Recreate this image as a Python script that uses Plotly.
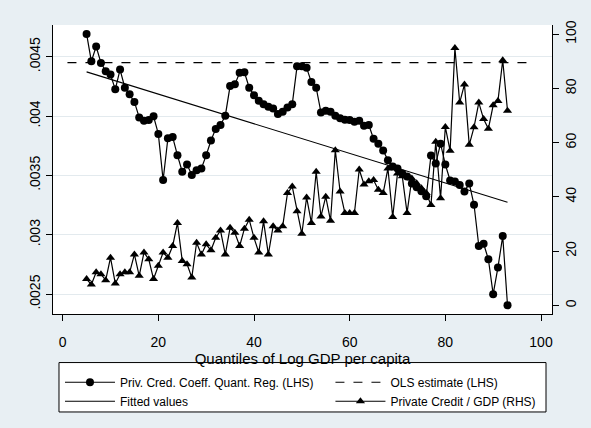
import numpy as np
import plotly.graph_objects as go

# Quantiles of log GDP per capita at which the regression was estimated
quantiles = list(range(5, 94))

# Private credit coefficient from the quantile regressions (left axis)
coef_quantreg = [
    .004692, .004461, .004586, .004448, .004378, .004350, .004225, .004392, .004239, .004183,
    .004119, .003989, .003961, .003967, .003998, .003850, .003461, .003814, .003823, .003669,
    .003531, .003592, .003503, .003544, .003558, .003669, .003794, .003892, .003925, .004003,
    .004253, .004267, .004364, .004369, .004239, .004175, .004128, .004100, .004078, .004064,
    .004017, .004036, .004073, .004100, .004419, .004419, .004406, .004286, .004239, .004031,
    .004044, .004036, .004003, .003981, .003969, .003967, .003953, .003961, .003919, .003925,
    .003808, .003767, .003711, .003628, .003575, .003558, .003517, .003492, .003433, .003400,
    .003367, .003325, .003667, .003600, .003767, .003592, .003458, .003448, .003419, .003364,
    .003433, .003253, .002906, .002925, .002794, .002500, .002725, .002989, .002406,
]

# Private credit / GDP at each quantile (right axis)
private_credit_gdp = [
    9.7, 7.7, 12.2, 11.5, 9.3, 17.6, 8.1, 11.5, 12.2, 12.2,
    18.8, 10.9, 19.5, 17.0, 9.7, 14.6, 19.5, 17.6, 21.9, 30.4,
    16.4, 15.2, 10.3, 23.1, 18.8, 22.5, 20.3, 24.9, 27.6, 18.8,
    28.6, 26.8, 21.9, 28.3, 31.6, 24.9, 19.5, 31.0, 18.8, 29.2,
    27.6, 29.2, 41.4, 43.8, 34.7, 26.4, 39.8, 30.4, 49.3, 32.8,
    40.1, 31.2, 57.2, 42.0, 34.1, 34.1, 34.1, 50.1, 44.6, 45.8,
    46.2, 42.6, 41.4, 50.5, 32.6, 48.6, 47.6, 34.1, 46.8, 45.0,
    43.2, 41.4, 37.0, 60.3, 39.5, 65.8, 57.0, 94.9, 74.8, 81.5,
    59.2, 65.7, 74.8, 68.7, 65.1, 73.8, 75.4, 90.4, 71.8,
]

# OLS estimate of the same coefficient and the quantile span it is drawn over
ols_estimate = 0.00445
ols_span = [1, 97]

left_ticks = [0.0025, 0.003, 0.0035, 0.004, 0.0045]
left_tick_text = [".0025", ".003", ".0035", ".004", ".0045"]
right_ticks = [0, 20, 40, 60, 80, 100]
x_ticks = [0, 20, 40, 60, 80, 100]

# Linear fit of the quantile coefficients on the quantile
slope, intercept = np.polyfit(quantiles, coef_quantreg, 1)
fitted = [intercept + slope * q for q in quantiles]

FONT = "Liberation Sans, Arial, sans-serif"
BG = "#e8eff3"

fig = go.Figure()

fig.add_trace(go.Scatter(
    x=quantiles, y=coef_quantreg, mode="lines+markers",
    name="Priv. Cred. Coeff. Quant. Reg. (LHS)",
    line=dict(color="black", width=1.2),
    marker=dict(symbol="circle", size=8, color="black"),
    legend="legend",
))
fig.add_trace(go.Scatter(
    x=quantiles, y=fitted, mode="lines", name="Fitted values",
    line=dict(color="black", width=1.1),
    legend="legend",
))
fig.add_trace(go.Scatter(
    x=ols_span, y=[ols_estimate, ols_estimate], mode="lines",
    name="OLS estimate (LHS)",
    line=dict(color="black", width=1.2, dash="dash"),
    legend="legend2",
))
fig.add_trace(go.Scatter(
    x=quantiles, y=private_credit_gdp, mode="lines+markers", yaxis="y2",
    name="Private Credit / GDP (RHS)",
    line=dict(color="black", width=1.2),
    marker=dict(symbol="triangle-up", size=8, color="black"),
    legend="legend2",
))

# Frame around the two legend columns
fig.add_shape(type="rect", xref="paper", yref="paper",
              x0=0.012, x1=0.988, y0=-0.339, y1=-0.168,
              line=dict(color="black", width=1), fillcolor="white", layer="below")

legend_common = dict(
    orientation="v", yanchor="top", xanchor="left",
    bgcolor="rgba(0,0,0,0)", borderwidth=0, itemwidth=50,
    font=dict(family=FONT, size=12, color="black"), tracegroupgap=0,
)

fig.update_layout(
    width=591, height=428,
    margin=dict(l=53, r=37, t=25, b=111, pad=0),
    paper_bgcolor=BG, plot_bgcolor="white",
    font=dict(family=FONT, size=14, color="black"),
    showlegend=True,
    legend=dict(x=0.014, y=-0.186, **legend_common),
    legend2=dict(x=0.556, y=-0.186, **legend_common),
    xaxis=dict(
        range=[-2.02, 102.3], tickvals=x_ticks, ticks="outside", ticklen=6,
        tickcolor="black", showline=True, linecolor="black", linewidth=1,
        showgrid=False, zeroline=False, ticklabelstandoff=9,
        tickfont=dict(size=14),
        title=dict(text="Quantiles of Log GDP per capita", standoff=3,
                   font=dict(size=15)),
    ),
    yaxis=dict(
        range=[0.002333, 0.004767], tickvals=left_ticks, ticktext=left_tick_text,
        tickangle=-90, ticks="outside", ticklen=6, tickcolor="black",
        showline=True, linecolor="black", linewidth=1,
        showgrid=True, gridcolor="#e3eaee", gridwidth=1, zeroline=False,
        tickfont=dict(size=14),
    ),
    yaxis2=dict(
        overlaying="y", side="right", range=[-3.18, 103.4], tickvals=right_ticks,
        tickangle=-90, ticks="outside", ticklen=6, tickcolor="black",
        showline=True, linecolor="black", linewidth=1,
        showgrid=False, zeroline=False, tickfont=dict(size=14),
    ),
)

fig.write_html("out.html")
